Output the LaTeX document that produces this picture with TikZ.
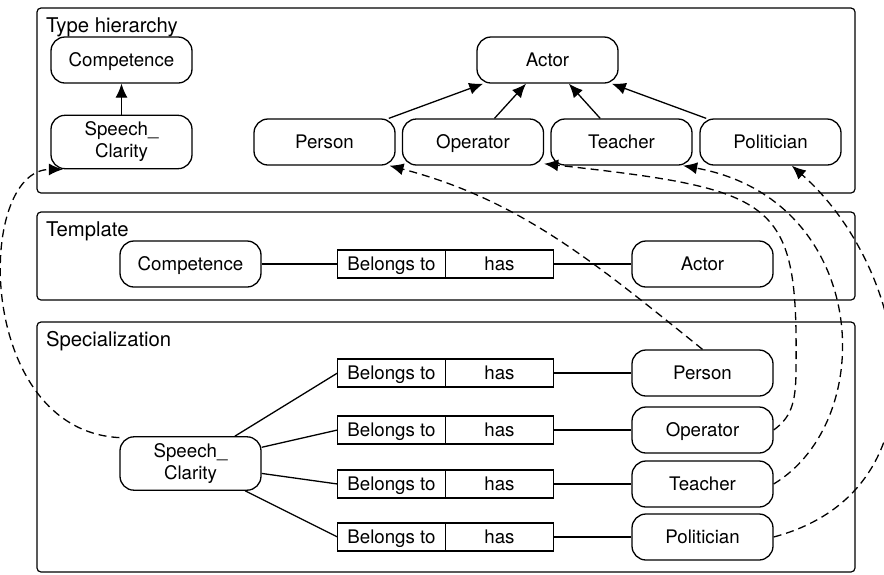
\documentclass[tikz,border=0pt]{standalone}
\usepackage{fontspec}
\setmainfont{TeX Gyre Heros}
\usepackage{tikz}
\usetikzlibrary{positioning}
\usetikzlibrary{arrows.meta}
\tikzset{
	panel/.style={
		draw,
		rounded corners=2pt,
		minimum width=409pt,
		line width=.6pt
	},
	heading/.style={
		anchor=base west,
		inner sep=0pt,
		font=\fontsize{10.15}{12}\selectfont
	},
	entity/.style={
		draw,
		rounded corners=7pt,
		align=center,
		minimum width=70.5pt,
		minimum height=23pt,
		text height=8.7pt,
		text depth=2pt,
		font=\fontsize{9.35}{11}\selectfont
	},
	twoline/.style={
		entity,
		text height=,
		text depth=
	},
	role/.style={
		draw,
		minimum width=54pt,
		minimum height=14pt,
		inner sep=0pt,
		outer sep=0pt,
		text height=8.7pt,
		text depth=2pt,
		font=\fontsize{9.35}{11}\selectfont
	},
	isa/.style={-{Latex[length=7pt,width=6pt]}},
	link/.style={isa, dash pattern=on 4pt off 2.5pt}
}

\begin{document}
\begin{tikzpicture}[x=.5pt, y=-.5pt, line width=.65pt]
		\useasboundingbox (0,0) rectangle (884,574);
		% the three panels
		\node[panel, minimum height=92.5pt](TypePanel) at (446,100.5){};
		\node[panel, minimum height=44pt](TemplatePanel) at (446,256){};
		\node[panel, minimum height=125pt](SpecPanel) at (446,447){};
		\node[heading, xshift=4.5pt, yshift=-12.5pt] at (TypePanel.north west){Type hierarchy};
		\node[heading, xshift=4.5pt, yshift=-12.5pt] at (TemplatePanel.north west){Template};
		\node[heading, xshift=4.5pt, yshift=-12.5pt] at (SpecPanel.north west){Specialization};
		
		% type hierarchy
		\node[entity](CompType) at (121.5,60){Competence};
		\node[twoline](ClarityType) at (121.5,142){Speech\_\\Clarity};
		\node[entity](ActorType) at (547.5,60){Actor};
		\node[entity](PersonType) at (324.5,142){Person};
		\node[entity](OperatorType) at (473,142){Operator};
		\node[entity](TeacherType) at (621.5,142){Teacher};
		\node[entity](PoliticianType) at (770.5,142){Politician};
		
		\draw[isa] (ClarityType) -- (CompType);
		\draw[isa] (PersonType) -- (ActorType);
		\draw[isa] (OperatorType) -- (ActorType);
		\draw[isa] (TeacherType) -- (ActorType);
		\draw[isa] (PoliticianType) -- (ActorType);
		
		% template
		\node[entity](CompTempl) at (190.5,264){Competence};
		\node[role](BelongsTempl) at (391.5,264){Belongs to};
		\node[role, right=0pt of BelongsTempl](HasTempl){has};
		\node[entity](ActorTempl) at (702.5,264){Actor};
		
		\draw (CompTempl) -- (BelongsTempl);
		\draw (HasTempl) -- (ActorTempl);
		
		% specialization
		\node[twoline](ClaritySpec) at (190.5,463.5){Speech\_\\Clarity};
		\node[role](BelongsA) at (391.5,373){Belongs to};
		\node[role](BelongsB) at (391.5,430){Belongs to};
		\node[role](BelongsC) at (391.5,484){Belongs to};
		\node[role](BelongsD) at (391.5,537){Belongs to};
		\node[role, right=0pt of BelongsA](HasA){has};
		\node[role, right=0pt of BelongsB](HasB){has};
		\node[role, right=0pt of BelongsC](HasC){has};
		\node[role, right=0pt of BelongsD](HasD){has};
		\node[entity](PersonSpec) at (702.5,373){Person};
		\node[entity](OperatorSpec) at (702.5,430){Operator};
		\node[entity](TeacherSpec) at (702.5,484){Teacher};
		\node[entity](PoliticianSpec) at (702.5,537){Politician};
		
		\draw (ClaritySpec) -- (BelongsA.west);
		\draw (ClaritySpec) -- (BelongsB.west);
		\draw (ClaritySpec) -- (BelongsC.west);
		\draw (ClaritySpec) -- (BelongsD.west);
		\draw (HasA) -- (PersonSpec);
		\draw (HasB) -- (OperatorSpec);
		\draw (HasC) -- (TeacherSpec);
		\draw (HasD) -- (PoliticianSpec);
		
		% specialization back to the type hierarchy
		\draw[link] (ClaritySpec.160) .. controls (-25,430) and (-25,170) .. (ClarityType.205);
		\draw[link] (PersonSpec.north) .. controls (594,262) and (520,200) .. (PersonType.-20);
		\draw[link] (OperatorSpec.east) .. controls (790,418) and (796,405) .. (796,370) .. controls (798,200) and (780,190) .. (OperatorType.-17);
		\draw[link] (TeacherSpec.east) .. controls (880,420) and (870,200) .. (TeacherType.-21);
		\draw[link] (PoliticianSpec.east) .. controls (950,490) and (910,270) .. (PoliticianType.-48);
	\end{tikzpicture}
\end{document}
